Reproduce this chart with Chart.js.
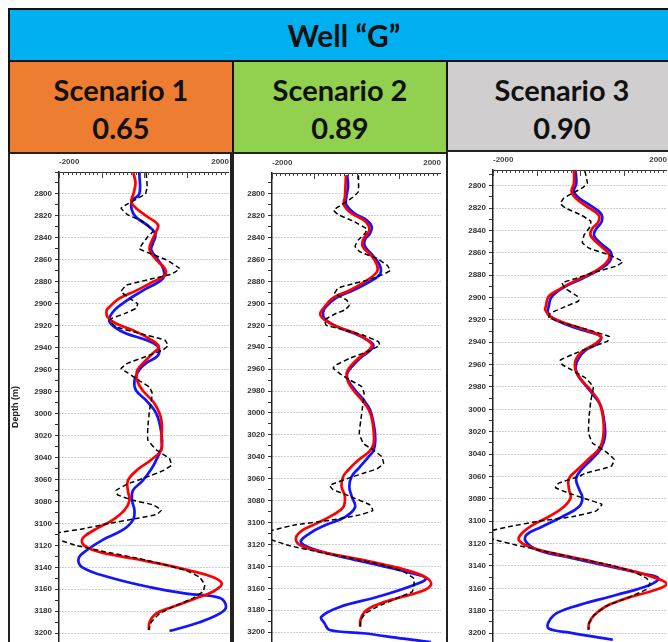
<!DOCTYPE html>
<html>
<head>
<meta charset="utf-8">
<script src="https://cdn.jsdelivr.net/npm/chart.js@4.4.1/dist/chart.umd.min.js"></script>
<style>
  html, body { margin: 0; padding: 0; }
  body { width: 668px; height: 642px; overflow: hidden; position: relative; background: #fff;
         font-family: Lato, "Open Sans", sans-serif; }
  .box { position: absolute; box-sizing: border-box; border: 2px solid #111; display: flex;
         align-items: center; justify-content: center; text-align: center; font-weight: 700; color: #111; }
  .well { font-size: 30px; }
  .scen { font-size: 29px; line-height: 38px; padding-top: 4px; }
  .panel { position: absolute; box-sizing: border-box; border: 2px solid #222; background: #fff; }
  canvas { position: absolute; }
</style>
</head>
<body>
<div id="wrap"></div>
<script>
// ---- header text ----
const wellName = 'Well “G”';
const scenarioNames = ['Scenario 1', 'Scenario 2', 'Scenario 3'];
const scenarioScores = ['0.65', '0.89', '0.90'];

// ---- axis ----
const xTickLabels = [-2000, 2000];

// ---- Scenario 1 curves (depth in m, value) ----
const s1BlueDepth = [2781,2800,2806,2814,2821,2830,2837,2845,2851,2860,2869,2877,2888,2897,2906,2915,2921,2927,2933,2939,2947,2954,2960,2970,2979,2988,3000,3018,3030,3039,3050,3061,3070,3079,3088,3097,3106,3115,3124,3132,3140,3149,3158,3164,3168,3176,3182,3190,3198];
const s1BlueValue = [-110,-110,-280,-290,-190,130,270,210,170,330,460,445,-30,-400,-700,-820,-700,-420,50,330,330,50,-110,-225,-185,50,290,410,420,330,180,-30,-260,-280,-225,-260,-500,-970,-1330,-1540,-1450,-820,130,1000,1790,1930,1790,1310,600];
const s1RedDepth = [2781,2790,2800,2807,2813,2821,2828,2834,2844,2851,2860,2868,2874,2880,2888,2895,2903,2906,2912,2918,2924,2932,2939,2945,2956,2962,2971,2979,2991,3006,3024,3033,3042,3051,3061,3070,3079,3088,3097,3106,3114,3120,3126,3132,3138,3143,3149,3155,3162,3168,3176,3182,3190,3197];
const s1RedValue = [-250,-200,-250,-300,-185,90,330,290,170,130,290,490,490,210,-185,-580,-816,-880,-856,-660,-264,130,350,210,-70,-170,-150,-30,250,410,410,410,170,-150,-380,-380,-340,-460,-740,-1170,-1450,-1410,-1050,-260,530,1080,1630,1830,1630,1240,680,290,130,115];
const s1DashDepth = [2781,2793,2800,2804,2809,2813,2819,2825,2834,2839,2845,2850,2854,2860,2868,2873,2877,2880,2883,2889,2895,2900,2904,2909,2913,2915,2921,2927,2933,2938,2942,2948,2954,2959,2963,2970,2976,2982,2997,3012,3024,3033,3041,3047,3052,3058,3064,3070,3074,3079,3083,3088,3092,3095,3100,3105,3108,3111,3115,3120,3126,3132,3138,3143,3149,3156,3162,3168,3176,3182,3190,3197];
const s1DashValue = [50,75,35,-150,-380,-540,-380,-30,210,90,-30,-110,130,525,840,645,210,-110,-420,-540,-340,-150,-185,-460,-740,-816,-660,-110,490,565,445,50,-380,-540,-380,-110,130,195,130,90,90,290,600,645,450,50,-380,-660,-620,-260,210,410,290,-110,-820,-1450,-1960,-2300,-2000,-1600,-900,-110,525,1000,1310,1430,1390,1160,680,370,170,110];

// ---- Scenario 2 curves ----
const s2BlueDepth = [2783,2793,2803,2810,2818,2824,2830,2836,2842,2848,2857,2865,2873,2880,2888,2895,2903,2908,2914,2921,2927,2933,2938,2943,2950,2958,2964,2970,2979,2988,2997,3013,3025,3034,3040,3050,3058,3067,3076,3086,3095,3102,3110,3118,3125,3133,3140,3146,3151,3157,3168,3177,3186,3192,3198,3201,3206,3209];
const s2BlueValue = [-220,-200,-240,-240,-40,240,360,320,200,200,400,550,560,320,-80,-480,-720,-790,-755,-475,-80,240,400,320,85,-115,-220,-200,-35,165,320,420,445,405,285,60,-115,-170,-115,-35,-275,-715,-1115,-1315,-955,-155,640,1280,1640,1360,485,-395,-835,-755,-635,165,1120,1760];
const s2RedDepth = [2783,2803,2810,2818,2825,2833,2841,2848,2857,2865,2871,2879,2888,2895,2905,2910,2915,2921,2927,2933,2938,2943,2950,2958,2964,2972,2981,2990,3000,3016,3028,3035,3043,3052,3058,3067,3076,3086,3093,3101,3108,3115,3121,3127,3133,3139,3145,3151,3157,3163,3169,3175,3181,3188,3195];
const s2RedValue = [-250,-275,-300,-115,205,305,165,145,365,485,485,245,-155,-555,-795,-860,-755,-475,-35,245,365,285,45,-155,-235,-195,-35,165,325,405,405,305,45,-195,-315,-355,-275,-315,-555,-955,-1315,-1435,-1315,-795,5,720,1320,1680,1760,1520,960,485,205,100,85];
const s2DashDepth = [2783,2798,2804,2810,2815,2819,2825,2832,2836,2842,2848,2853,2859,2865,2870,2874,2879,2882,2886,2891,2897,2902,2906,2909,2915,2920,2924,2929,2935,2938,2943,2950,2956,2959,2964,2970,2976,2982,2994,3007,3019,3028,3034,3040,3046,3051,3055,3058,3066,3070,3076,3084,3089,3093,3098,3102,3107,3111,3116,3121,3127,3133,3139,3145,3151,3157,3163,3169,3177,3183,3189,3195];
const s2DashValue = [45,45,-115,-355,-540,-435,-75,245,205,45,-35,85,485,720,800,600,245,-75,-435,-515,-230,-175,-275,-475,-755,-715,-315,165,520,545,325,-155,-475,-555,-395,-155,125,180,145,100,65,165,405,600,640,485,165,-75,-635,-555,-155,325,385,85,-635,-1435,-1990,-2250,-1990,-1595,-875,-75,640,1120,1360,1360,1320,960,485,205,100,85];

// ---- Scenario 3 curves ----
const s3BlueDepth = [2787,2798,2805,2811,2817,2825,2832,2839,2845,2853,2860,2868,2875,2883,2890,2899,2908,2913,2917,2924,2930,2935,2941,2947,2954,2962,2969,2977,2986,2997,3012,3024,3035,3044,3054,3062,3071,3079,3087,3096,3105,3112,3118,3126,3133,3141,3147,3151,3157,3166,3175,3182,3190,3196,3200,3206];
const s3BlueValue = [-100,-85,-140,-25,210,480,500,365,325,520,715,675,445,55,-335,-645,-720,-740,-680,-335,130,480,405,130,-25,-100,-60,95,285,480,560,575,480,285,30,-90,-25,55,-25,-410,-875,-1225,-1250,-955,-180,755,1450,1800,1605,830,-25,-525,-720,-720,-180,755];
const s3RedDepth = [2787,2798,2805,2811,2819,2826,2832,2839,2845,2854,2862,2869,2877,2884,2892,2899,2908,2911,2917,2923,2930,2935,2941,2948,2956,2965,2974,2983,2994,3009,3024,3035,3044,3054,3062,3071,3079,3087,3096,3103,3111,3117,3123,3129,3136,3144,3150,3156,3161,3169,3176,3184,3191,3197];
const s3RedValue = [-140,-140,-195,-100,170,425,425,270,250,480,675,600,325,-60,-450,-720,-785,-800,-680,-335,210,480,365,55,-100,-100,40,250,445,535,535,445,210,-60,-255,-255,-215,-370,-720,-1070,-1340,-1405,-1145,-565,285,1140,1685,1995,1760,1060,600,325,210,195];
const s3DashDepth = [2787,2798,2802,2807,2811,2816,2820,2826,2832,2838,2844,2851,2856,2862,2868,2872,2877,2883,2887,2892,2899,2903,2908,2914,2918,2923,2929,2935,2939,2945,2951,2956,2960,2965,2972,2980,2992,3006,3021,3030,3038,3045,3051,3057,3060,3066,3070,3075,3081,3085,3091,3096,3100,3105,3108,3112,3117,3121,3127,3133,3139,3145,3151,3156,3161,3169,3176,3184,3191,3197];
const s3DashValue = [115,170,55,-180,-370,-450,-335,15,250,210,95,55,210,675,985,830,365,-100,-410,-335,-60,-30,-330,-680,-720,-370,210,675,635,210,-180,-450,-410,-180,130,305,250,210,195,285,600,790,715,130,-25,-490,-565,-255,210,505,365,-180,-955,-1650,-2000,-2250,-1920,-1500,-800,-100,675,1220,1530,1605,1530,1060,600,325,210,195];

// ---- page layout ----
const wrap = document.getElementById('wrap');
function addBox(cls, style, html) {
  const d = document.createElement('div');
  d.className = cls;
  Object.assign(d.style, style);
  d.innerHTML = html;
  wrap.appendChild(d);
  return d;
}
addBox('box well', { left: '8px', top: '8px', width: '672px', height: '54px', background: '#00b0f0' }, wellName);

const headerFills = ['#ed7d31', '#92d050', '#d0cece'];
const columns = [
  { left: 8, width: 226 },
  { left: 232, width: 216 },
  { left: 446, width: 232 }
];
scenarioNames.forEach((name, i) => {
  addBox('box scen', { left: columns[i].left + 'px', top: '60px', width: columns[i].width + 'px',
    height: '94px', background: headerFills[i] }, '<div>' + name + '<br>' + scenarioScores[i] + '</div>');
});
const panelBoxes = [
  { left: 8, top: 152, width: 224 },
  { left: 232, top: 152, width: 216 },
  { left: 446, top: 150, width: 232 }
];
panelBoxes.forEach(p => addBox('panel', { left: p.left + 'px', top: p.top + 'px',
  width: p.width + 'px', height: '520px' }, ''));

// ---- charts ----
const pts = (depths, values) => depths.map((d, i) => ({ x: values[i], y: d }));

// tick marks hanging from the top value axis into the plot
const innerTicks = {
  id: 'innerTicks',
  afterDraw(chart) {
    const xs = chart.scales.x, top = chart.chartArea.top, ctx = chart.ctx;
    ctx.save();
    ctx.strokeStyle = '#444';
    ctx.lineWidth = 1;
    xs.ticks.forEach(t => {
      const px = Math.round(xs.getPixelForValue(t.value)) + 0.5;
      const len = t.value % 1000 === 0 ? 6 : 3;
      ctx.beginPath();
      ctx.moveTo(px, top);
      ctx.lineTo(px, top + len);
      ctx.stroke();
    });
    ctx.restore();
  }
};

function noEdgePadding(s) {
  s.paddingTop = 0; s.paddingBottom = 0; s.paddingLeft = 0; s.paddingRight = 0;
}

function makePanel(cfg) {
  const c = document.createElement('canvas');
  c.width = cfg.w; c.height = cfg.h;
  c.style.left = cfg.left + 'px'; c.style.top = cfg.top + 'px';
  c.style.width = cfg.w + 'px'; c.style.height = cfg.h + 'px';
  wrap.appendChild(c);
  const tickFont = { family: 'Liberation Sans, Arial, sans-serif', size: 8, weight: 'bold' };
  new Chart(c, {
    type: 'scatter',
    data: {
      datasets: [
        { data: pts(cfg.dash[0], cfg.dash[1]), borderColor: '#000', borderWidth: 1.5,
          borderDash: [5, 3], tension: 0.1 },
        { data: pts(cfg.red[0], cfg.red[1]), borderColor: '#ff0000', borderWidth: 2.7, tension: 0.4 },
        { data: pts(cfg.blue[0], cfg.blue[1]), borderColor: '#1414ff', borderWidth: 2.7, tension: 0.4 }
      ].map(ds => Object.assign(ds, { showLine: true, pointRadius: 0, pointHoverRadius: 0, fill: false }))
    },
    options: {
      responsive: false,
      animation: false,
      devicePixelRatio: 1,
      events: [],
      layout: { padding: 0 },
      plugins: { legend: { display: false }, tooltip: { enabled: false } },
      scales: {
        x: {
          type: 'linear', position: 'top', min: -2000, max: 2000,
          afterBuildTicks: s => {
            const t = [];
            for (let v = -2000; v <= 2000; v += 100) t.push({ value: v });
            s.ticks = t;
          },
          afterFit: s => { s.height = cfg.xh; noEdgePadding(s); },
          grid: { display: false, drawTicks: false },
          border: { display: true, color: '#333', width: 1 },
          ticks: {
            autoSkip: false, maxRotation: 0, align: 'inner', padding: 5,
            color: '#444', font: tickFont,
            callback: v => xTickLabels.includes(v) ? String(v) : ''
          }
        },
        y: {
          type: 'linear', reverse: true, min: cfg.ymin, max: cfg.ymax,
          afterBuildTicks: s => {
            const t = [];
            for (let v = Math.ceil(cfg.ymin / 10) * 10; v <= cfg.ymax; v += 10) t.push({ value: v });
            s.ticks = t;
          },
          afterFit: s => { s.width = cfg.yw; noEdgePadding(s); },
          grid: {
            color: ctx => (ctx.tick && ctx.tick.value % 20 === 0) ? '#9a9a9a' : 'rgba(0,0,0,0)',
            tickColor: '#333', tickLength: 4, lineWidth: 1, tickWidth: 1
          },
          border: { display: true, color: '#222', width: 1.5, dash: [1, 2] },
          ticks: {
            autoSkip: false, padding: 3, color: '#333', font: tickFont,
            callback: v => (v % 20 === 0 && v - cfg.ymin >= 5) ? String(v) : ''
          },
          title: {
            display: !!cfg.title, text: cfg.title || '', color: '#222',
            font: { family: 'Liberation Sans, Arial, sans-serif', size: 9, weight: 'bold' },
            padding: { top: 0, bottom: 0 }
          }
        }
      }
    },
    plugins: [innerTicks]
  });
}

makePanel({ left: 10, top: 155, w: 219, h: 487, xh: 17, yw: 49, ymin: 2780, ymax: 3208,
  title: 'Depth (m)',
  blue: [s1BlueDepth, s1BlueValue], red: [s1RedDepth, s1RedValue], dash: [s1DashDepth, s1DashValue] });
makePanel({ left: 234, top: 155, w: 207, h: 487, xh: 18, yw: 38, ymin: 2781, ymax: 3209,
  blue: [s2BlueDepth, s2BlueValue], red: [s2RedDepth, s2RedValue], dash: [s2DashDepth, s2DashValue] });
makePanel({ left: 448, top: 153, w: 219, h: 489, xh: 17, yw: 45, ymin: 2786, ymax: 3208,
  blue: [s3BlueDepth, s3BlueValue], red: [s3RedDepth, s3RedValue], dash: [s3DashDepth, s3DashValue] });
</script>
</body>
</html>
